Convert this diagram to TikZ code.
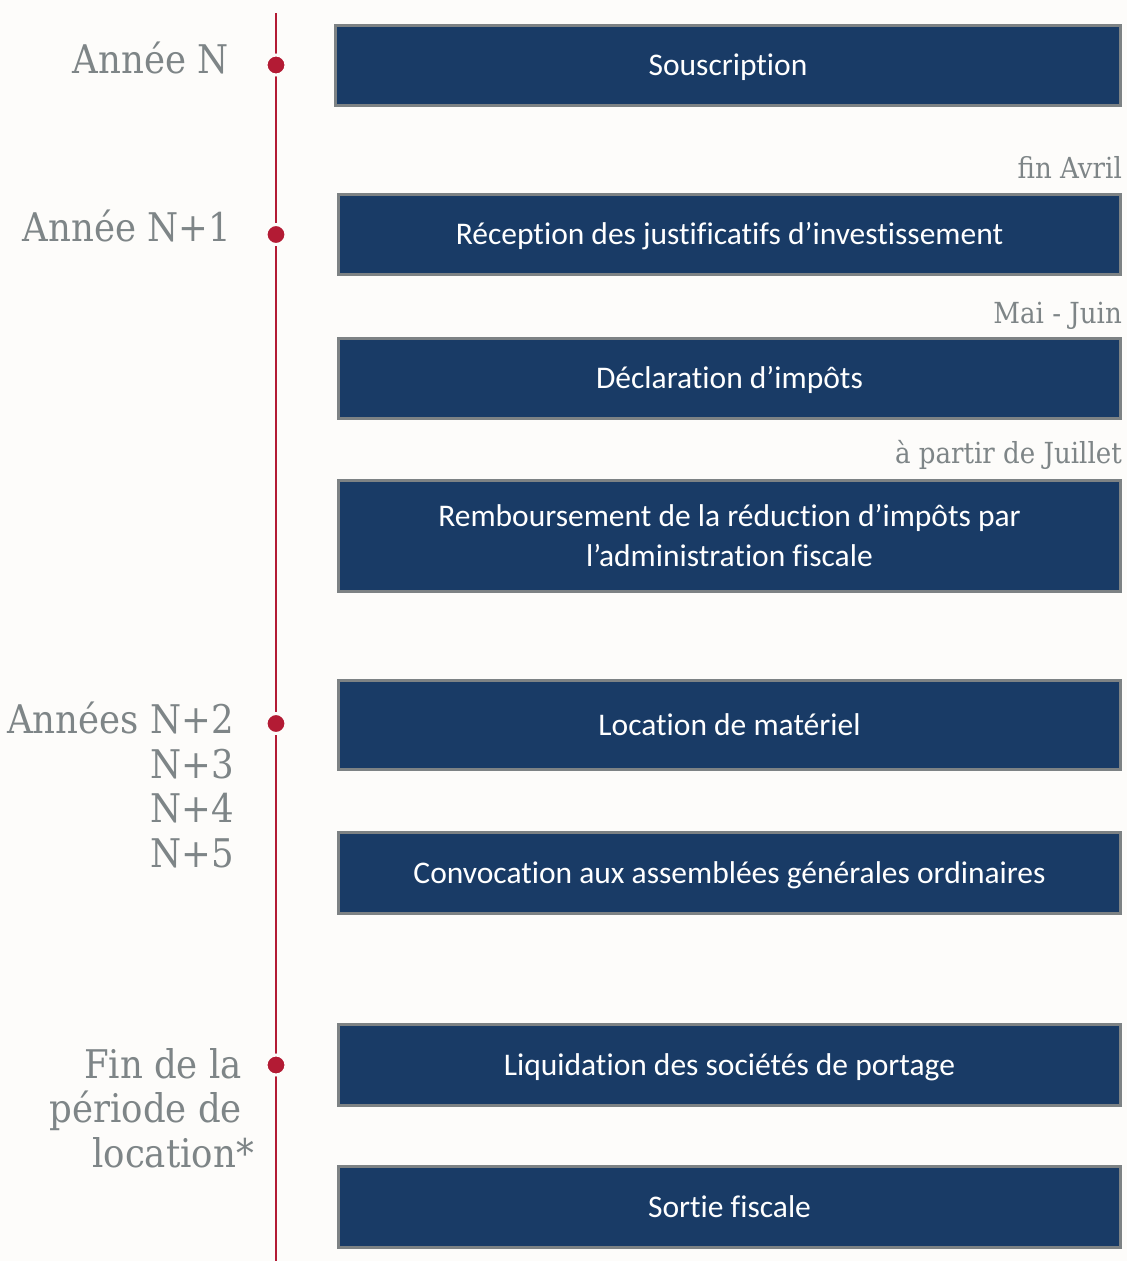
\documentclass[tikz,border=0pt]{standalone}
\usepackage{fontspec}
\setmainfont[Ligatures={NoCommon}]{Carlito}
\newfontfamily\slabfont{DejaVu Serif Condensed}
\definecolor{bgc}{HTML}{FDFCFA}
\definecolor{boxfill}{HTML}{193B66}
\definecolor{boxline}{HTML}{7D8284}
\definecolor{tlred}{HTML}{B31B34}
\definecolor{labgray}{HTML}{7E8587}
\begin{document}
\begin{tikzpicture}[x=1pt,y=-1pt,
  stepbox/.style={draw=boxline, line width=3pt, fill=boxfill, text=white,
    minimum width=782pt, align=center, inner sep=0pt,
    text height=20.4pt, text depth=0pt,
    font=\fontsize{31.5}{39.3}\selectfont},
  yearlab/.style={anchor=base east, text=labgray, inner sep=0pt,
    font=\slabfont\fontsize{39.5}{45}\selectfont},
  datelab/.style={anchor=base east, text=labgray, inner sep=0pt,
    font=\slabfont\fontsize{29}{32}\selectfont},
  tldot/.style={circle, fill=tlred, minimum size=20pt, inner sep=0pt,
    draw=bgc, line width=3pt}]
\fill[bgc] (0,0) rectangle (1127,1261);
\useasboundingbox (0,0) rectangle (1127,1261);
% timeline
\coordinate (tltop) at (276,13);
\coordinate (tlbot) at (276,1261);
\draw[tlred, line width=2.5pt] (tltop) -- (tlbot);
\node[tldot] (d1) at (276,65) {};
\node[tldot] (d2) at (276,234.5) {};
\node[tldot] (d3) at (276,723.5) {};
\node[tldot] (d4) at (276,1065) {};
% boxes
\node[stepbox, minimum width=785pt, minimum height=80pt] (b1) at (728,65.5) {Souscription};
\node[stepbox, minimum height=80pt] (b2) at (729.5,234.5) {Réception des justificatifs d’investissement};
\node[stepbox, minimum height=80pt] (b3) at (729.5,378.5) {Déclaration d’impôts};
\node[stepbox, minimum height=111pt, text height=60pt] (b4) at (729.5,536) {Remboursement de la réduction d’impôts par\\l’administration fiscale};
\node[stepbox, minimum height=89pt] (b5) at (729.5,725) {Location de matériel};
\node[stepbox, minimum height=81pt] (b6) at (729.5,873) {Convocation aux assemblées générales ordinaires};
\node[stepbox, minimum height=81pt] (b7) at (729.5,1065) {Liquidation des sociétés de portage};
\node[stepbox, minimum height=81pt] (b8) at (729.5,1207) {Sortie fiscale};
% date labels
\node[datelab] (m1) at (1122,178) {fin Avril};
\node[datelab] (m2) at (1122,323) {Mai - Juin};
\node[datelab] (m3) at (1122,463) {à partir de Juillet};
% year labels
\node[yearlab] (y1) at (229,73) {Année N};
\node[yearlab] (y2) at (231,241) {Année N+1};
\node[yearlab] (y3a) at (234,733) {Années N+2};
\node[yearlab] (y3b) at (234,778) {N+3};
\node[yearlab] (y3c) at (234,822) {N+4};
\node[yearlab] (y3d) at (234,867) {N+5};
\node[yearlab] (y4a) at (242,1078) {Fin de la};
\node[yearlab] (y4b) at (242,1122) {période de};
\node[yearlab] (y4c) at (254,1167) {location*};
\end{tikzpicture}
\end{document}
